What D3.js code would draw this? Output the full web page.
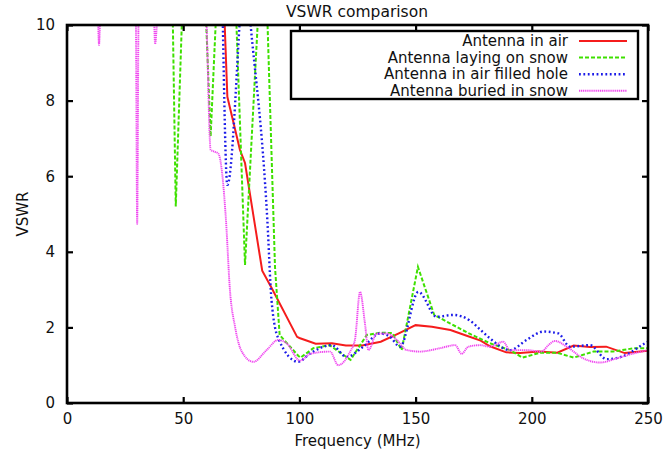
<!DOCTYPE html>
<html>
<head>
<meta charset="utf-8">
<script src="https://cdn.jsdelivr.net/npm/d3@7"></script>
<style>
  body { margin: 0; background: #fff; }
  text { font-family: "DejaVu Sans", sans-serif; fill: #111; }
</style>
</head>
<body>
<script>
// values: [frequency MHz, VSWR]; points above 10 get clipped
var inAir = [[67.5, 10.6], [69, 8.1], [74.4, 6.7], [76.6, 6.35], [84, 3.5], [88, 3.05], [99, 1.75],
  [100, 1.72], [107, 1.57], [114, 1.58], [120, 1.52], [127, 1.52], [135, 1.62], [143, 1.85],
  [150, 2.06], [157, 2.02], [165, 1.93], [172, 1.78], [178, 1.65], [182, 1.5], [189, 1.34],
  [195, 1.32], [203, 1.36], [211, 1.33], [218, 1.52], [225, 1.48], [232, 1.49], [240, 1.32],
  [250, 1.38]];

var onSnow = [[45.5, 10.2], [46.8, 5.2], [49.5, 10.2], [55, 14], [59.8, 10.2], [61.8, 7.05],
  [64.1, 10.2], [68, 14], [72.8, 10.2], [76.6, 3.65], [82.2, 10.2], [84, 13], [86.2, 10.2],
  [89.5, 3.6], [91.5, 1.8], [99.5, 1.25], [100.5, 1.2], [106, 1.45], [113, 1.53], [122, 1.14],
  [129, 1.8], [135, 1.86], [140, 1.85], [144, 1.4], [151, 3.6], [158, 2.33], [165, 2.1],
  [173, 1.84], [182, 1.58], [190.5, 1.4], [196, 1.2], [203.5, 1.33], [211, 1.33], [218, 1.2],
  [226.5, 1.36], [235, 1.36], [244, 1.45], [250, 1.45]];

var filledHole = [[67, 10.2], [69, 5.77], [74.4, 10.2], [76, 12], [78.7, 10.2], [86.2, 4.84],
  [88, 2.72], [90.9, 1.71], [99.5, 1.09], [104.6, 1.31], [113.9, 1.53], [120.3, 1.22],
  [127.5, 1.49], [134.7, 1.84], [139, 1.75], [143.3, 1.49], [151.2, 2.94], [159.1, 2.28],
  [166.2, 2.33], [173.4, 2.18], [177.7, 1.95], [182, 1.71], [190.6, 1.4], [197.8, 1.67],
  [205, 1.89], [211.4, 1.84], [216.4, 1.49], [225, 1.53], [232.2, 1.16], [239.4, 1.24],
  [248.7, 1.58], [250, 1.62]];

var buried = [[13.3, 10.3], [13.8, 9.47], [14.3, 10.3], [20, 14], [29.6, 10.2], [30.2, 4.74],
  [30.8, 10.2], [34, 13], [37.5, 10.1], [37.9, 9.5], [38.8, 10.1], [50, 14], [59.8, 10.3],
  [61.8, 6.7], [63.3, 6.65], [65.1, 6.6], [66.6, 6.16], [68.4, 4.84], [70.1, 3.0], [72.3, 2.02],
  [75.2, 1.36], [80.2, 1.09], [85.9, 1.4], [90.9, 1.67], [94.5, 1.58], [100.3, 1.12],
  [104.6, 1.3], [113.2, 1.36], [116.7, 1.0], [121.8, 1.36], [123.9, 1.67], [126.1, 2.94],
  [128.2, 2.11], [129.7, 1.4], [133.3, 1.84], [137.6, 1.84], [141.9, 1.67], [146.2, 1.4],
  [151.9, 1.36], [160.5, 1.45], [167, 1.53], [169.8, 1.3], [172.7, 1.49], [177.7, 1.53],
  [182, 1.49], [187.7, 1.62], [190.6, 1.4], [197.8, 1.4], [204.2, 1.36], [207.1, 1.53],
  [210, 1.64], [215, 1.49], [222.2, 1.18], [229.4, 1.07], [236.5, 1.18], [243.7, 1.31],
  [250, 1.4]];

var seriesNames = ["Antenna in air", "Antenna laying on snow", "Antenna in air filled hole", "Antenna buried in snow"];
var xTicks = [0, 50, 100, 150, 200, 250];
var yTicks = [0, 2, 4, 6, 8, 10];

var width = 663, height = 459;
var margin = {top: 25, right: 15, bottom: 56, left: 67};

var x = d3.scaleLinear().domain([0, 250]).range([margin.left, width - margin.right]);
var y = d3.scaleLinear().domain([0, 10]).range([height - margin.bottom, margin.top]);

var svg = d3.select("body").append("svg")
    .attr("width", width).attr("height", height);

svg.append("clipPath").attr("id", "plot")
  .append("rect")
    .attr("x", x(0)).attr("y", y(10))
    .attr("width", x(250) - x(0)).attr("height", y(0) - y(10));

var styles = [
  {data: inAir, color: "#f51c1c", width: 2, dash: null, curve: d3.curveLinear},
  {data: onSnow, color: "#3ee000", width: 2, dash: "4,2", curve: d3.curveLinear},
  {data: filledHole, color: "#1b1be8", width: 2.4, dash: "1.8,2.6", curve: d3.curveMonotoneX},
  {data: buried, color: "#f048f0", width: 1.9, dash: "1.2,0.7", curve: d3.curveMonotoneX}
];

var lines = svg.append("g").attr("clip-path", "url(#plot)");
styles.forEach(function (s) {
  var line = d3.line().x(function (d) { return x(d[0]); }).y(function (d) { return y(d[1]); }).curve(s.curve);
  lines.append("path")
      .datum(s.data)
      .attr("d", line)
      .attr("fill", "none")
      .attr("stroke", s.color)
      .attr("stroke-width", s.width)
      .attr("stroke-dasharray", s.dash);
});

// axes: ticks point inward on all four sides, labels only bottom and left
var tickLen = 6;
svg.append("g").attr("transform", "translate(0," + y(0) + ")")
    .call(d3.axisBottom(x).tickValues(xTicks).tickSize(-tickLen).tickPadding(10))
    .call(function (g) { g.select(".domain").remove(); });
svg.append("g").attr("transform", "translate(0," + y(10) + ")")
    .call(d3.axisTop(x).tickValues(xTicks).tickSize(-tickLen).tickFormat(""))
    .call(function (g) { g.select(".domain").remove(); });
svg.append("g").attr("transform", "translate(" + x(0) + ",0)")
    .call(d3.axisLeft(y).tickValues(yTicks).tickSize(-tickLen).tickPadding(12))
    .call(function (g) { g.select(".domain").remove(); });
svg.append("g").attr("transform", "translate(" + x(250) + ",0)")
    .call(d3.axisRight(y).tickValues(yTicks).tickSize(-tickLen).tickFormat(""))
    .call(function (g) { g.select(".domain").remove(); });

svg.selectAll(".tick line").attr("stroke", "#000").attr("stroke-width", 2.2);
svg.selectAll(".tick text").style("font-size", "15px").style("font-family", "DejaVu Sans").attr("fill", "#111");

svg.append("rect")
    .attr("x", x(0)).attr("y", y(10))
    .attr("width", x(250) - x(0)).attr("height", y(0) - y(10))
    .attr("fill", "none").attr("stroke", "#000").attr("stroke-width", 2.6);

svg.append("text")
    .attr("x", 357).attr("y", 17)
    .attr("text-anchor", "middle")
    .style("font-size", "15.5px")
    .text("VSWR comparison");

svg.append("text")
    .attr("x", (x(0) + x(250)) / 2).attr("y", 446)
    .attr("text-anchor", "middle")
    .style("font-size", "15px")
    .text("Frequency (MHz)");

svg.append("text")
    .attr("transform", "translate(28," + y(5) + ") rotate(-90)")
    .attr("text-anchor", "middle")
    .style("font-size", "15px")
    .text("VSWR");

// legend
var legend = svg.append("g");
legend.append("rect")
    .attr("x", 291).attr("y", 31).attr("width", 347).attr("height", 68)
    .attr("fill", "#fff").attr("stroke", "#000").attr("stroke-width", 2.4);

seriesNames.forEach(function (name, i) {
  var ly = 41 + i * 16.6;
  legend.append("text")
      .attr("x", 568).attr("y", ly + 5)
      .attr("text-anchor", "end")
      .style("font-size", "15px")
      .text(name);
  legend.append("line")
      .attr("x1", 579).attr("x2", 627).attr("y1", ly).attr("y2", ly)
      .attr("stroke", styles[i].color)
      .attr("stroke-width", styles[i].width)
      .attr("stroke-dasharray", styles[i].dash);
});
</script>
</body>
</html>
